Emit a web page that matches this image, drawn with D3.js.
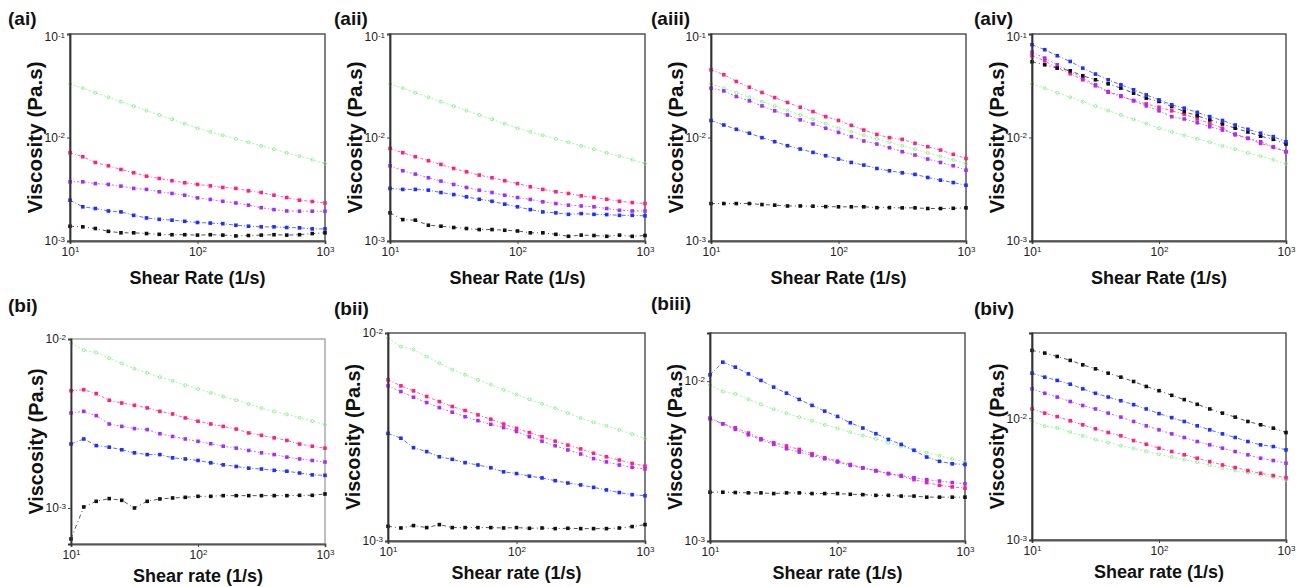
<!DOCTYPE html>
<html><head><meta charset="utf-8">
<script src="https://cdn.jsdelivr.net/npm/d3@7"></script>
<style>body{margin:0;background:#fff}svg{display:block}</style>
</head><body><svg id="c" width="1297" height="587"></svg>
<script>
// ---------- data ----------
const shearRate = [10,12.6,15.8,20,25.1,31.6,39.8,50.1,63.1,79.4,100,126,158,200,251,316,398,501,631,794,1000];

const greenA = [0.0330,0.0299,0.0271,0.0245,0.0222,0.0201,0.0182,0.0165,0.0150,0.0136,0.0123,0.01135,0.0105,0.0097,0.0090,0.0083,0.0077,0.0071,0.0066,0.0061,0.0056];
const greenB = [0.00945,0.00860,0.00832,0.00770,0.00716,0.00667,0.00630,0.00595,0.00565,0.00533,0.00506,0.00480,0.00457,0.00435,0.00412,0.00390,0.00372,0.00358,0.00342,0.00327,0.00311];

const aiPink = [0.00713,0.00652,0.00574,0.00533,0.00491,0.00456,0.00423,0.00402,0.00382,0.00365,0.00352,0.00341,0.00329,0.00322,0.00305,0.00294,0.00277,0.00263,0.00248,0.00241,0.00233];
const aiPurple = [0.00373,0.00373,0.00359,0.00352,0.00339,0.00322,0.00315,0.00299,0.00288,0.00277,0.00261,0.00252,0.00242,0.00233,0.00222,0.00210,0.00201,0.00195,0.00194,0.00194,0.00194];
const aiBlue = [0.00248,0.00214,0.00206,0.00195,0.00191,0.00177,0.00167,0.00162,0.00159,0.00155,0.00151,0.00149,0.00147,0.00142,0.00139,0.00137,0.00137,0.00135,0.00134,0.00131,0.00131];
const aiBlack = [0.00139,0.00137,0.00132,0.00124,0.00120,0.00120,0.00118,0.00116,0.00115,0.00115,0.00114,0.00115,0.00114,0.00112,0.00113,0.00114,0.00115,0.00114,0.00115,0.00118,0.00120];

const aiiPink = [0.00785,0.00713,0.00652,0.00596,0.00549,0.00502,0.00466,0.00433,0.00408,0.00382,0.00359,0.00334,0.00315,0.00299,0.00288,0.00273,0.00263,0.00253,0.00242,0.00235,0.00230];
const aiiPurple = [0.00533,0.00477,0.00443,0.00408,0.00379,0.00352,0.00329,0.00310,0.00294,0.00277,0.00263,0.00252,0.00239,0.00230,0.00222,0.00218,0.00214,0.00206,0.00198,0.00195,0.00195];
const aiiBlue = [0.00322,0.00315,0.00315,0.00310,0.00294,0.00281,0.00267,0.00253,0.00242,0.00227,0.00214,0.00201,0.00191,0.00187,0.00181,0.00184,0.00181,0.00180,0.00177,0.00177,0.00175];
const aiiBlack = [0.00187,0.00161,0.00159,0.00142,0.00139,0.00135,0.00132,0.00129,0.00129,0.00127,0.00125,0.00120,0.00120,0.00116,0.00111,0.00114,0.00113,0.00111,0.00114,0.00111,0.00113];

const aiiiPink = [0.0451,0.0404,0.0348,0.0306,0.0272,0.0243,0.0218,0.0196,0.0178,0.0159,0.0146,0.0131,0.0118,0.0107,0.00996,0.00960,0.00878,0.00815,0.00756,0.00687,0.00628];
const aiiiPurple = [0.0300,0.0282,0.0249,0.0226,0.0202,0.0181,0.0165,0.0148,0.0135,0.0123,0.0112,0.01019,0.00925,0.00865,0.00797,0.00729,0.00677,0.00619,0.00574,0.00533,0.00484];
const aiiiBlue = [0.0146,0.0132,0.0120,0.0110,0.00996,0.00911,0.00833,0.00774,0.00718,0.00667,0.00619,0.00574,0.00541,0.00502,0.00477,0.00456,0.00440,0.00411,0.00387,0.00367,0.00346];
const aiiiBlack = [0.00230,0.00230,0.00230,0.00230,0.00225,0.00222,0.00218,0.00218,0.00217,0.00215,0.00214,0.00214,0.00214,0.00210,0.00210,0.00209,0.00209,0.00206,0.00206,0.00207,0.00209];

const aivBlue = [0.0788,0.0705,0.0617,0.0543,0.0468,0.0410,0.0361,0.0323,0.0289,0.0258,0.0231,0.0207,0.0192,0.0175,0.0159,0.0146,0.0132,0.0120,0.0110,0.01019,0.00911];
const aivBlack = [0.0539,0.0504,0.0468,0.0441,0.0395,0.0361,0.0330,0.0300,0.0268,0.0240,0.0223,0.0199,0.0178,0.0162,0.0148,0.0135,0.0123,0.0113,0.0103,0.00960,0.00865];
const aivPurple = [0.0669,0.0585,0.0504,0.0435,0.0375,0.0323,0.0278,0.0253,0.0226,0.0202,0.0181,0.0159,0.0151,0.0139,0.0127,0.0118,0.0108,0.00982,0.00911,0.00815,0.00729];
const aivPink = [0.0617,0.0551,0.0468,0.0413,0.0361,0.0316,0.0274,0.0249,0.0228,0.0211,0.0196,0.0181,0.0168,0.0151,0.0137,0.0123,0.0106,0.00982,0.00878,0.00803,0.00729];

const biPink = [0.00494,0.00501,0.00475,0.00434,0.00418,0.00405,0.00391,0.00373,0.00360,0.00341,0.00326,0.00314,0.00304,0.00293,0.00278,0.00269,0.00260,0.00251,0.00239,0.00232,0.00226];
const biPurple = [0.00365,0.00373,0.00352,0.00314,0.00304,0.00295,0.00291,0.00275,0.00265,0.00256,0.00248,0.00240,0.00232,0.00226,0.00219,0.00212,0.00207,0.00200,0.00195,0.00191,0.00187];
const biBlue = [0.00239,0.00256,0.00234,0.00229,0.00221,0.00212,0.00207,0.00207,0.00198,0.00195,0.00191,0.00185,0.00180,0.00176,0.00172,0.00170,0.00167,0.00165,0.00161,0.00157,0.00156];
const biBlack = [0.000656,0.001014,0.001095,0.001136,0.001110,0.001000,0.001095,0.001131,0.001146,0.001156,0.001172,0.001172,0.001183,0.001183,0.001183,0.001183,0.001183,0.001183,0.001188,0.001188,0.001210];

const biiPink = [0.00596,0.00557,0.00527,0.00495,0.00468,0.00443,0.00424,0.00404,0.00385,0.00365,0.00348,0.00332,0.00317,0.00302,0.00289,0.00277,0.00264,0.00254,0.00245,0.00236,0.00229];
const biiPurple = [0.00557,0.00523,0.00491,0.00463,0.00438,0.00416,0.00396,0.00379,0.00364,0.00351,0.00336,0.00317,0.00302,0.00287,0.00274,0.00262,0.00249,0.00240,0.00232,0.00226,0.00222];
const biiBlue = [0.00329,0.00312,0.00281,0.00269,0.00254,0.00247,0.00238,0.00232,0.00225,0.00215,0.00211,0.00205,0.00201,0.00195,0.00190,0.00186,0.00181,0.00176,0.00171,0.00167,0.00165];
const biiBlack = [0.001177,0.001155,0.001186,0.001160,0.001199,0.001160,0.001160,0.001160,0.001160,0.001155,0.001160,0.001151,0.001155,0.001147,0.001151,0.001147,0.001147,0.001147,0.001155,0.001173,0.001199];

const biiiBlue = [0.01095,0.01314,0.01223,0.01111,0.01010,0.00917,0.00841,0.00768,0.00705,0.00649,0.00601,0.00549,0.00509,0.00469,0.00432,0.00402,0.00369,0.00335,0.00315,0.00304,0.00301];
const biiiPink = [0.00581,0.00541,0.00511,0.00473,0.00436,0.00412,0.00393,0.00374,0.00351,0.00332,0.00316,0.00301,0.00287,0.00276,0.00264,0.00254,0.00242,0.00232,0.00223,0.00218,0.00214];
const biiiPurple = [0.00587,0.00541,0.00499,0.00462,0.00430,0.00402,0.00378,0.00360,0.00343,0.00327,0.00312,0.00297,0.00286,0.00274,0.00264,0.00257,0.00249,0.00242,0.00237,0.00232,0.00228];
const biiiBlack = [0.00202,0.00202,0.00201,0.00200,0.00200,0.00198,0.00200,0.00200,0.00198,0.00198,0.00198,0.00196,0.00195,0.00193,0.00193,0.00191,0.00191,0.00188,0.00188,0.00188,0.00188];

const bivBlack = [0.0360,0.0342,0.0321,0.0298,0.0274,0.0254,0.0234,0.0217,0.0200,0.0182,0.0168,0.0154,0.0142,0.0130,0.0119,0.0110,0.0102,0.00939,0.00882,0.00828,0.00762];
const bivBlue = [0.0234,0.0217,0.0204,0.0190,0.0174,0.0160,0.0149,0.0139,0.0129,0.0119,0.0109,0.0101,0.00939,0.00865,0.00802,0.00743,0.00694,0.00643,0.00604,0.00585,0.00549];
const bivPurple = [0.0174,0.0160,0.0149,0.0137,0.0127,0.0119,0.0110,0.0102,0.00939,0.00865,0.00802,0.00743,0.00694,0.00643,0.00604,0.00567,0.00532,0.00500,0.00469,0.00449,0.00427];
const bivPink = [0.0119,0.0110,0.0103,0.00951,0.00882,0.00817,0.00762,0.00716,0.00655,0.00611,0.00567,0.00532,0.00500,0.00469,0.00440,0.00413,0.00393,0.00371,0.00353,0.00338,0.00325];

const xTicks = [10, 100, 1000];
const panelLabels = ["(ai)","(aii)","(aiii)","(aiv)","(bi)","(bii)","(biii)","(biv)"];
const xTitleA = "Shear Rate (1/s)";
const xTitleB = "Shear rate (1/s)";
const yTitle = "Viscosity (Pa.s)";

// ---------- styles ----------
const COL = {
  green:  {stroke:"#7ef07e", fill:"none", mark:"circle", dash:"2,2"},
  pink:   {stroke:"#ff2080", fill:"#ff2080", mark:"square", dash:"3,2,1,2"},
  purple: {stroke:"#a030ff", fill:"#a030ff", mark:"square", dash:"2,2,1,2"},
  blue:   {stroke:"#1f2fff", fill:"#1f2fff", mark:"square", dash:"4,2,1,2"},
  black:  {stroke:"#111111", fill:"#111111", mark:"square", dash:"4,3,1,3"}
};
const FONT = "Arial, 'Liberation Sans', sans-serif";

const panels = [
  {label:panelLabels[0], rect:[70,34,325,241], yDomain:[1e-3,1e-1], yTicks:[1e-3,1e-2,1e-1], xTitle:xTitleA, lab:[8,25], frame:"#555",
   series:[["green",greenA],["black",aiBlack],["blue",aiBlue],["purple",aiPurple],["pink",aiPink]]},
  {label:panelLabels[1], rect:[390,34,645,241], yDomain:[1e-3,1e-1], yTicks:[1e-3,1e-2,1e-1], xTitle:xTitleA, lab:[334,25], frame:"#555",
   series:[["green",greenA],["black",aiiBlack],["blue",aiiBlue],["purple",aiiPurple],["pink",aiiPink]]},
  {label:panelLabels[2], rect:[711,34,966,241], yDomain:[1e-3,1e-1], yTicks:[1e-3,1e-2,1e-1], xTitle:xTitleA, lab:[651,25], frame:"#555",
   series:[["green",greenA],["black",aiiiBlack],["blue",aiiiBlue],["purple",aiiiPurple],["pink",aiiiPink]]},
  {label:panelLabels[3], rect:[1032,34,1286,241], yDomain:[1e-3,1e-1], yTicks:[1e-3,1e-2,1e-1], xTitle:xTitleA, lab:[974,25], frame:"#555",
   series:[["green",greenA],["pink",aivPink],["purple",aivPurple],["black",aivBlack],["blue",aivBlue]]},
  {label:panelLabels[4], rect:[71,339,325,544], yDomain:[6.12e-4,1e-2], yTicks:[1e-3,1e-2], xTitle:xTitleB, lab:[8,312], frame:"#aaa",
   series:[["green",greenB],["black",biBlack],["blue",biBlue],["purple",biPurple],["pink",biPink]]},
  {label:panelLabels[5], rect:[388,333,645,541], yDomain:[1e-3,1e-2], yTicks:[1e-3,1e-2], xTitle:xTitleB, lab:[334,315], frame:"#555",
   series:[["green",greenB],["black",biiBlack],["blue",biiBlue],["purple",biiPurple],["pink",biiPink]]},
  {label:panelLabels[6], rect:[710,333,965,541], yDomain:[1e-3,2e-2], yTicks:[1e-3,1e-2], xTitle:xTitleB, lab:[651,310], frame:"#555",
   series:[["green",greenB],["black",biiiBlack],["pink",biiiPink],["purple",biiiPurple],["blue",biiiBlue]]},
  {label:panelLabels[7], rect:[1032,333,1286,540], yDomain:[1e-3,5e-2], yTicks:[1e-3,1e-2], xTitle:xTitleB, lab:[974,315], frame:"#555",
   series:[["green",greenB],["pink",bivPink],["purple",bivPurple],["blue",bivBlue],["black",bivBlack]]}
];

const svg = d3.select("#c");

function supLabels(g) {
  g.selectAll(".tick text").each(function(d) {
    const e = Math.round(Math.log10(d));
    const t = d3.select(this);
    t.text("");
    t.append("tspan").text("10");
    t.append("tspan").attr("dy", "-0.45em").style("font-size", "8px").text(String(e));
  });
}

panels.forEach(p => {
  const [x0, y0, x1, y1] = p.rect;
  const x = d3.scaleLog().domain([10, 1000]).range([x0, x1]);
  const y = d3.scaleLog().domain(p.yDomain).range([y1, y0]);
  const g = svg.append("g");

  g.append("rect").attr("x", x0).attr("y", y0).attr("width", x1 - x0).attr("height", y1 - y0)
    .attr("fill", "none").attr("stroke", p.frame).attr("stroke-width", 1.5);

  p.series.forEach(([key, vals]) => {
    const st = COL[key];
    const pts = shearRate.map((s, i) => [s, vals[i]]);
    const line = d3.line().x(d => x(d[0])).y(d => y(d[1]));
    g.append("path").datum(pts).attr("d", line).attr("fill", "none")
      .attr("stroke", st.stroke).attr("stroke-width", 1).attr("stroke-opacity", 0.7)
      .attr("stroke-dasharray", st.dash);
    if (st.mark === "square") {
      g.selectAll(null).data(pts).enter().append("rect")
        .attr("x", d => x(d[0]) - 1.8).attr("y", d => y(d[1]) - 1.8)
        .attr("width", 3.6).attr("height", 3.6).attr("fill", st.fill);
    } else {
      g.selectAll(null).data(pts).enter().append("circle")
        .attr("cx", d => x(d[0])).attr("cy", d => y(d[1])).attr("r", 1.5)
        .attr("fill", "none").attr("stroke", st.stroke).attr("stroke-width", 0.8);
    }
  });

  const ax = g.append("g").attr("transform", `translate(0,${y1})`)
    .call(d3.axisBottom(x).tickValues(xTicks).tickSize(3).tickPadding(3));
  ax.select(".domain").attr("stroke", "#555").attr("stroke-width", 1.8);
  const ay = g.append("g").attr("transform", `translate(${x0},0)`)
    .call(d3.axisLeft(y).tickValues(p.yTicks).tickSize(3).tickPadding(2));
  ay.select(".domain").attr("stroke", "#333").attr("stroke-width", 1.8);
  [ax, ay].forEach(a => {
    a.selectAll(".tick line").attr("stroke", "#444");
    a.selectAll(".tick text").style("font-family", FONT).style("font-size", "12px").attr("fill", "#222");
    supLabels(a);
  });
  // nudge top-row upper tick label down slightly so it clears the panel label
  ay.selectAll(".tick").filter(d => d === 1e-1).select("text").attr("dy", "0.55em");

  svg.append("text").attr("x", p.lab[0]).attr("y", p.lab[1]).text(p.label)
    .attr("font-family", FONT).attr("font-weight", "bold").attr("font-size", "19px").attr("fill", "#111");
  svg.append("text").attr("x", (x0 + x1) / 2).attr("y", y1 + (p.xTitle === xTitleA ? 43 : 38))
    .attr("text-anchor", "middle").text(p.xTitle)
    .attr("font-family", FONT).attr("font-weight", "bold").attr("font-size", "18px").attr("fill", "#111");
  const cy = (y0 + y1) / 2;
  const tx = x0 - 28;
  svg.append("text").attr("transform", `translate(${tx},${cy}) rotate(-90)`)
    .attr("text-anchor", "middle").text(yTitle)
    .attr("textLength", p.xTitle === xTitleA ? 152 : 146).attr("lengthAdjust", "spacingAndGlyphs")
    .attr("font-family", FONT).attr("font-weight", "bold").attr("font-size", "20px").attr("fill", "#111");
});
</script></body></html>
